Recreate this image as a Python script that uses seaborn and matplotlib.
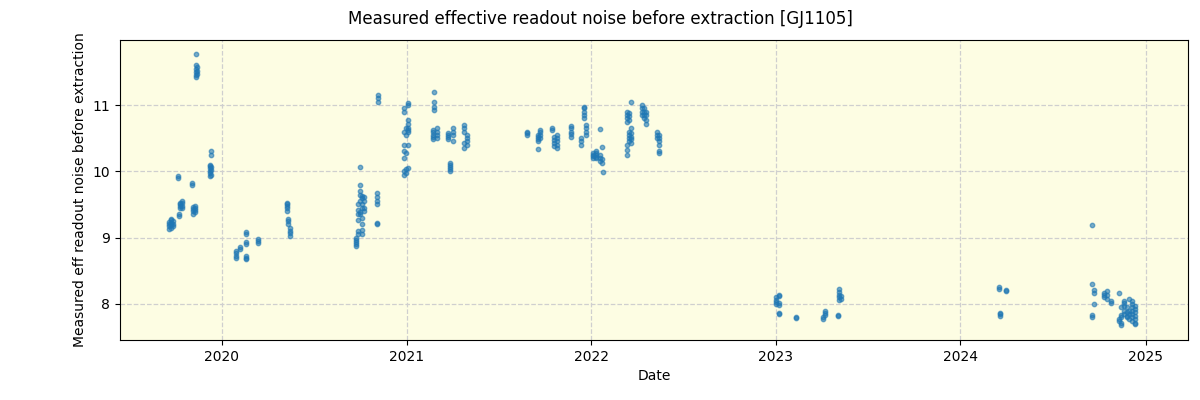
import matplotlib
matplotlib.use("Agg")
import matplotlib.pyplot as plt
import matplotlib.dates as mdates
import seaborn as sns
import pandas as pd

obs_dates = [
    "2019-09-18", "2019-09-22", "2019-09-26", "2019-10-06", "2019-10-08", "2019-10-10", "2019-10-14",
    "2019-11-03", "2019-11-05", "2019-11-09", "2019-11-11", "2019-11-13", "2019-12-08", "2019-12-10",
    "2020-01-29", "2020-02-06", "2020-02-19", "2020-03-12", "2020-05-10", "2020-05-12", "2020-05-16",
    "2020-09-22", "2020-09-26", "2020-09-30", "2020-10-04", "2020-10-08", "2020-11-04", "2020-11-06",
    "2020-12-26", "2020-12-30", "2021-01-03", "2021-02-21", "2021-02-23", "2021-03-01", "2021-03-23",
    "2021-03-27", "2021-04-02", "2021-04-24", "2021-04-30", "2021-08-26", "2021-09-17", "2021-09-21",
    "2021-10-15", "2021-10-19", "2021-10-25", "2021-11-21", "2021-12-11", "2021-12-17", "2021-12-21",
    "2022-01-05", "2022-01-11", "2022-01-19", "2022-01-23", "2022-01-25", "2022-03-13", "2022-03-17",
    "2022-03-21", "2022-04-12", "2022-04-16", "2022-04-20", "2022-05-11", "2022-05-15",
    "2023-01-01", "2023-01-07", "2023-02-10", "2023-04-04", "2023-04-08", "2023-05-04", "2023-05-06",
    "2023-05-10", "2024-03-18", "2024-03-20", "2024-04-01", "2024-09-18", "2024-09-22", "2024-10-10",
    "2024-10-16", "2024-10-24", "2024-11-09", "2024-11-13", "2024-11-19", "2024-11-25", "2024-11-30",
    "2024-12-06", "2024-12-12",
]

obs_values = [
    [9.13, 9.17, 9.2, 9.24], [9.15, 9.19, 9.22, 9.26, 9.28], [9.18, 9.21, 9.25], [9.9, 9.93],
    [9.33, 9.36], [9.44, 9.47, 9.5, 9.53], [9.45, 9.48, 9.52, 9.55],
    [9.8, 9.83], [9.36, 9.4, 9.43, 9.46], [9.38, 9.42, 9.45, 9.48],
    [11.42, 11.45, 11.5, 11.55, 11.6, 11.77], [11.47, 11.52, 11.57],
    [9.93, 9.97, 10.0, 10.05, 10.08, 10.1], [9.95, 10.02, 10.07, 10.25, 10.3],
    [8.7, 8.73, 8.77, 8.8], [8.83, 8.86], [8.68, 8.7, 8.73, 8.9, 8.93, 9.05, 9.08], [8.92, 8.95, 8.98],
    [9.4, 9.45, 9.48, 9.5, 9.52], [9.2, 9.25, 9.28], [9.03, 9.07, 9.1, 9.15],
    [8.88, 8.9, 8.93, 8.96, 9.0], [9.05, 9.1, 9.27, 9.35, 9.42, 9.5],
    [9.35, 9.38, 9.55, 9.65, 9.7, 9.8, 10.06], [9.05, 9.12, 9.2, 9.3, 9.45, 9.5, 9.6, 9.63],
    [9.4, 9.45, 9.55, 9.62], [9.2, 9.22, 9.5, 9.55, 9.62, 9.68], [11.05, 11.1, 11.15],
    [10.4, 10.6, 10.9, 10.95, 9.95, 10.0, 10.2, 10.3], [10.28, 10.55, 10.65, 9.97, 10.03],
    [10.6, 10.65, 10.72, 10.77, 10.62, 10.4, 10.05, 11.0, 11.03],
    [10.48, 10.52, 10.55, 10.6, 10.62], [10.92, 10.97, 11.05, 11.2], [10.5, 10.55, 10.6, 10.65],
    [10.48, 10.52, 10.55, 10.58], [10.0, 10.03, 10.07, 10.1, 10.13], [10.55, 10.6, 10.65, 10.45],
    [10.35, 10.42, 10.6, 10.65, 10.7], [10.4, 10.45, 10.5, 10.55],
    [10.55, 10.58, 10.6], [10.33, 10.45, 10.48, 10.52, 10.55], [10.5, 10.55, 10.6, 10.63],
    [10.62, 10.65], [10.38, 10.42, 10.47, 10.52], [10.35, 10.4, 10.45, 10.5, 10.55],
    [10.52, 10.56, 10.6, 10.65, 10.68], [10.4, 10.45, 10.5], [10.8, 10.85, 10.9, 10.95, 10.97],
    [10.55, 10.6, 10.65, 10.7],
    [10.2, 10.23, 10.25, 10.28], [10.2, 10.22, 10.25, 10.28, 10.3], [10.15, 10.2, 10.25, 10.64],
    [10.12, 10.18, 10.36], [9.99],
    [10.25, 10.32, 10.4, 10.75, 10.8, 10.85, 10.9], [10.45, 10.5, 10.55, 10.6, 10.78, 10.83, 10.88],
    [10.42, 10.48, 10.52, 10.58, 10.65, 11.05], [10.85, 10.9, 10.95, 11.0], [10.8, 10.85, 10.9, 10.95],
    [10.72, 10.78, 10.85, 10.9], [10.5, 10.55, 10.6], [10.4, 10.45, 10.5, 10.55, 10.3, 10.28],
    [8.0, 8.03, 8.06, 8.1], [7.85, 7.87, 7.98, 8.02, 8.12, 8.14], [7.79, 7.8], [7.77, 7.8],
    [7.83, 7.86, 7.89], [7.82, 7.83], [8.06, 8.1, 8.14, 8.18, 8.22], [8.08, 8.12],
    [8.22, 8.25], [7.82, 7.85, 7.87], [8.19, 8.21],
    [8.3, 9.19, 7.8, 7.83], [8.17, 8.21, 8.0], [8.1, 8.13, 8.16], [8.08, 8.14, 8.2], [8.02, 8.05],
    [8.16, 7.78, 7.75], [7.68, 7.72, 7.8, 7.83, 7.95], [7.85, 7.9, 7.97, 8.05, 8.02],
    [7.82, 7.88, 7.95, 7.8], [8.08, 7.85, 7.9, 7.78], [7.75, 7.8, 7.85, 7.9, 7.95, 8.0, 8.05],
    [7.7, 7.72, 7.78, 7.82, 7.88, 7.92, 7.97],
]

rows = []
for d, vals in zip(obs_dates, obs_values):
    for v in vals:
        rows.append({"Date": pd.Timestamp(d), "noise": v})
df = pd.DataFrame(rows)

fig = plt.figure(figsize=(12, 4), dpi=100)
ax = fig.add_axes([0.1, 0.15, 0.89, 0.75])
ax.set_facecolor("#fdfde3")

sns.scatterplot(data=df, x="Date", y="noise", ax=ax, color="#1f77b4", alpha=0.6,
                s=10, linewidth=1, edgecolor="#1f77b4", zorder=3)

ax.grid(True, linestyle="--", color="#cfcfcf", linewidth=0.9, zorder=0)
ax.set_axisbelow(True)
ax.set_xlim(pd.Timestamp("2019-06-14"), pd.Timestamp("2025-03-26"))
ax.set_ylim(7.457, 11.98)
ax.set_yticks([8, 9, 10, 11])
ax.xaxis.set_major_locator(mdates.YearLocator())
ax.xaxis.set_major_formatter(mdates.DateFormatter("%Y"))
ax.set_xlabel("Date")
ax.set_ylabel("Measured eff readout noise before extraction")
fig.suptitle("Measured effective readout noise before extraction [GJ1105]", fontsize=12, y=0.975)

fig.savefig("out.png", dpi=100)
